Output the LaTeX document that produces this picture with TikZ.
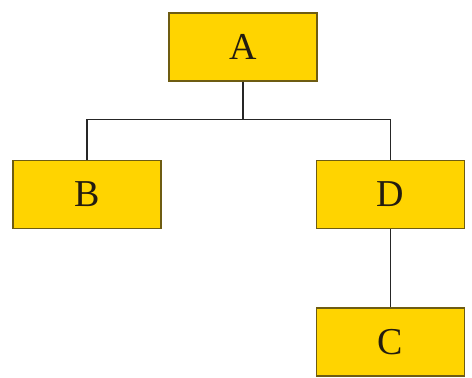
\documentclass[tikz,border=0pt]{standalone}
\usepackage{fontspec}
\setmainfont{Liberation Serif}
\usetikzlibrary{positioning}
\definecolor{Gold}  {HTML}{FFD400}
\definecolor{GoldD} {HTML}{6E5C12}
\definecolor{Ink}   {HTML}{231C10}
\tikzset{
  blk/.style={
    rectangle, draw=GoldD, fill=Gold, text=Ink,
    font=\fontsize{38}{38}\selectfont,
    minimum width=148pt, minimum height=68pt,
    line width=1.2pt, inner sep=0pt,
  },
  wire/.style={
    line width=1.6pt, color=black!85,
  },
}
\begin{document}
\begin{tikzpicture}[x=1pt,y=1pt]
  \useasboundingbox (0,0) rectangle (472,-378);

  \node[blk] (A) at (243,-47)    {A};
  \node[blk] (B) at (87,-194.5)  {B};
  \node[blk] (D) at (390.5,-194.5) {D};
  \node[blk] (C) at (390.5,-342) {C};

  \draw[wire] (A.south) -- ++(0,-38) -| (B.north);
  \draw[wire] (A.south) -- ++(0,-38) -| (D.north);
  \draw[wire] (D) -- (C);

\end{tikzpicture}
\end{document}
